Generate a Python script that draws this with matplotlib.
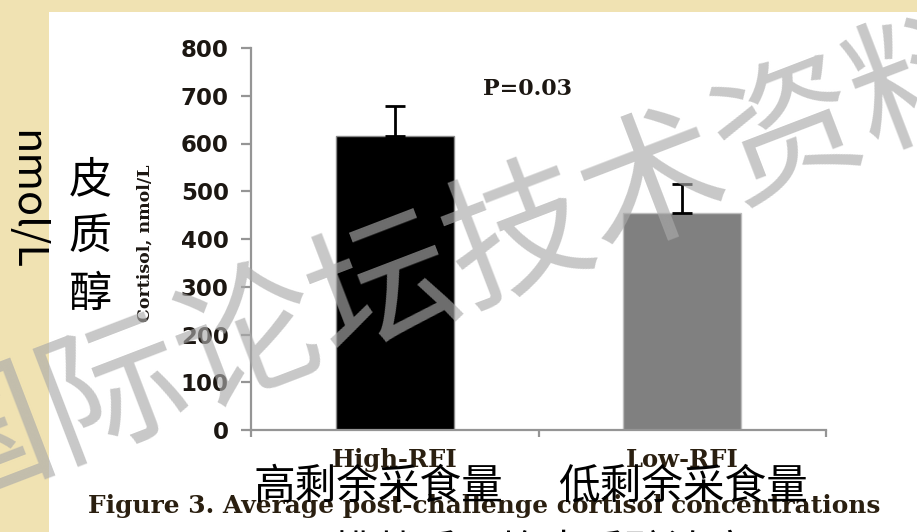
import matplotlib
matplotlib.use("Agg")
import matplotlib.pyplot as plt
from matplotlib.patches import Rectangle

# ---- data ----
groups = ["High-RFI", "Low-RFI"]
groups_cn = ["高剩余采食量", "低剩余采食量"]
cortisol = [615, 455]
cortisol_se = [63, 60]
bar_colors = ["#000000", "#808080"]
edge_colors = ["#8a8a8a", "#bdbdbd"]
y_ticks = [0, 100, 200, 300, 400, 500, 600, 700, 800]
p_text = "P=0.03"
caption = "Figure 3. Average post-challenge cortisol concentrations"
caption_cn = "图3  挑战后平均皮质醇浓度"
ylabel_en = "Cortisol, nmol/L"
ylabel_cn = ["皮", "质", "醇"]
unit_cn = "nmol/L"
watermark = "国际论坛技术资料"

W, H = 917, 532
fig = plt.figure(figsize=(W / 100, H / 100), dpi=100)
fig.patch.set_facecolor("#f0e2b2")


def fx(px):
    return px / W


def fy(py):
    return 1 - py / H


# white slide panel
fig.patches.append(Rectangle((fx(49), 0), 1 - fx(49), fy(12), transform=fig.transFigure,
                             facecolor="white", edgecolor="none", zorder=-10))

CN = ["Noto Sans CJK SC", "DejaVu Sans"]
SERIF = "DejaVu Serif"
INK = "#1c1712"

# ---- chart ----
ax = fig.add_axes([fx(251), fy(430), fx(826) - fx(251), fy(48) - fy(430)])
ax.set_zorder(1)
ax.set_facecolor("none")
pos = [0.5, 1.5]
ax.bar(pos, cortisol, width=0.41, color=bar_colors, edgecolor=edge_colors,
       linewidth=1.0, zorder=2)
ax.errorbar(pos, cortisol, yerr=[[0, 0], cortisol_se], fmt="none", ecolor="black",
            elinewidth=2.0, capsize=7, capthick=2.0, zorder=3)
ax.set_xlim(0, 2)
ax.set_ylim(0, 800)
ax.set_yticks(y_ticks)
ax.set_yticklabels([str(v) for v in y_ticks], fontfamily="DejaVu Sans",
                   fontweight="bold", fontsize=16.5, color=INK)
ax.set_xticks([0, 1, 2])
ax.set_xticklabels([])
ax.set_xticks(pos, minor=True)
ax.set_xticklabels(groups, minor=True, fontfamily=SERIF, fontweight="bold",
                   fontsize=17.5, color="#2a1f10")
ax.tick_params(axis="x", which="minor", length=0, pad=13)
ax.tick_params(axis="x", which="major", length=5, width=1.6, color="#959595", direction="out")
ax.tick_params(axis="y", length=7, width=1.6, color="#959595", direction="out", pad=9)
for s in ["top", "right"]:
    ax.spines[s].set_visible(False)
for s in ["left", "bottom"]:
    ax.spines[s].set_color("#959595")
    ax.spines[s].set_linewidth(1.6)

fig.text(fx(145), fy(243), ylabel_en, rotation=90, ha="center", va="center",
         fontfamily=SERIF, fontweight="bold", fontsize=12.5, color=INK, zorder=2)
fig.text(fx(528), fy(89), p_text, ha="center", va="center",
         fontfamily=SERIF, fontweight="bold", fontsize=16, color=INK, zorder=2)
fig.text(fx(484), fy(506), caption, ha="center", va="center",
         fontfamily=SERIF, fontweight="bold", fontsize=17.9, color="#2a1f10", zorder=2)

# ---- watermark ----
fig.text(fx(452), fy(262), watermark, rotation=21, rotation_mode="anchor",
         ha="center", va="center", fontfamily=CN, fontsize=104,
         color="#aaaaaa", alpha=0.65, zorder=5)

# ---- Chinese annotations ----
for cx, label in zip([378, 683], groups_cn):
    fig.text(fx(cx), fy(487), label, ha="center", va="center",
             fontfamily=CN, fontsize=30, color="black", zorder=6)
for cy, ch in zip([180, 237, 295], ylabel_cn):
    fig.text(fx(90), fy(cy), ch, ha="center", va="center",
             fontfamily=CN, fontsize=31, color="black", zorder=6)
fig.text(fx(26), fy(200), unit_cn, rotation=270, ha="center", va="center",
         fontfamily=CN, fontsize=30, color="black", zorder=6)
fig.text(fx(500), fy(533), caption_cn, ha="center", va="top",
         fontfamily=CN, fontsize=30, color="black", zorder=6)

fig.savefig("out.png", dpi=100, facecolor=fig.get_facecolor())
